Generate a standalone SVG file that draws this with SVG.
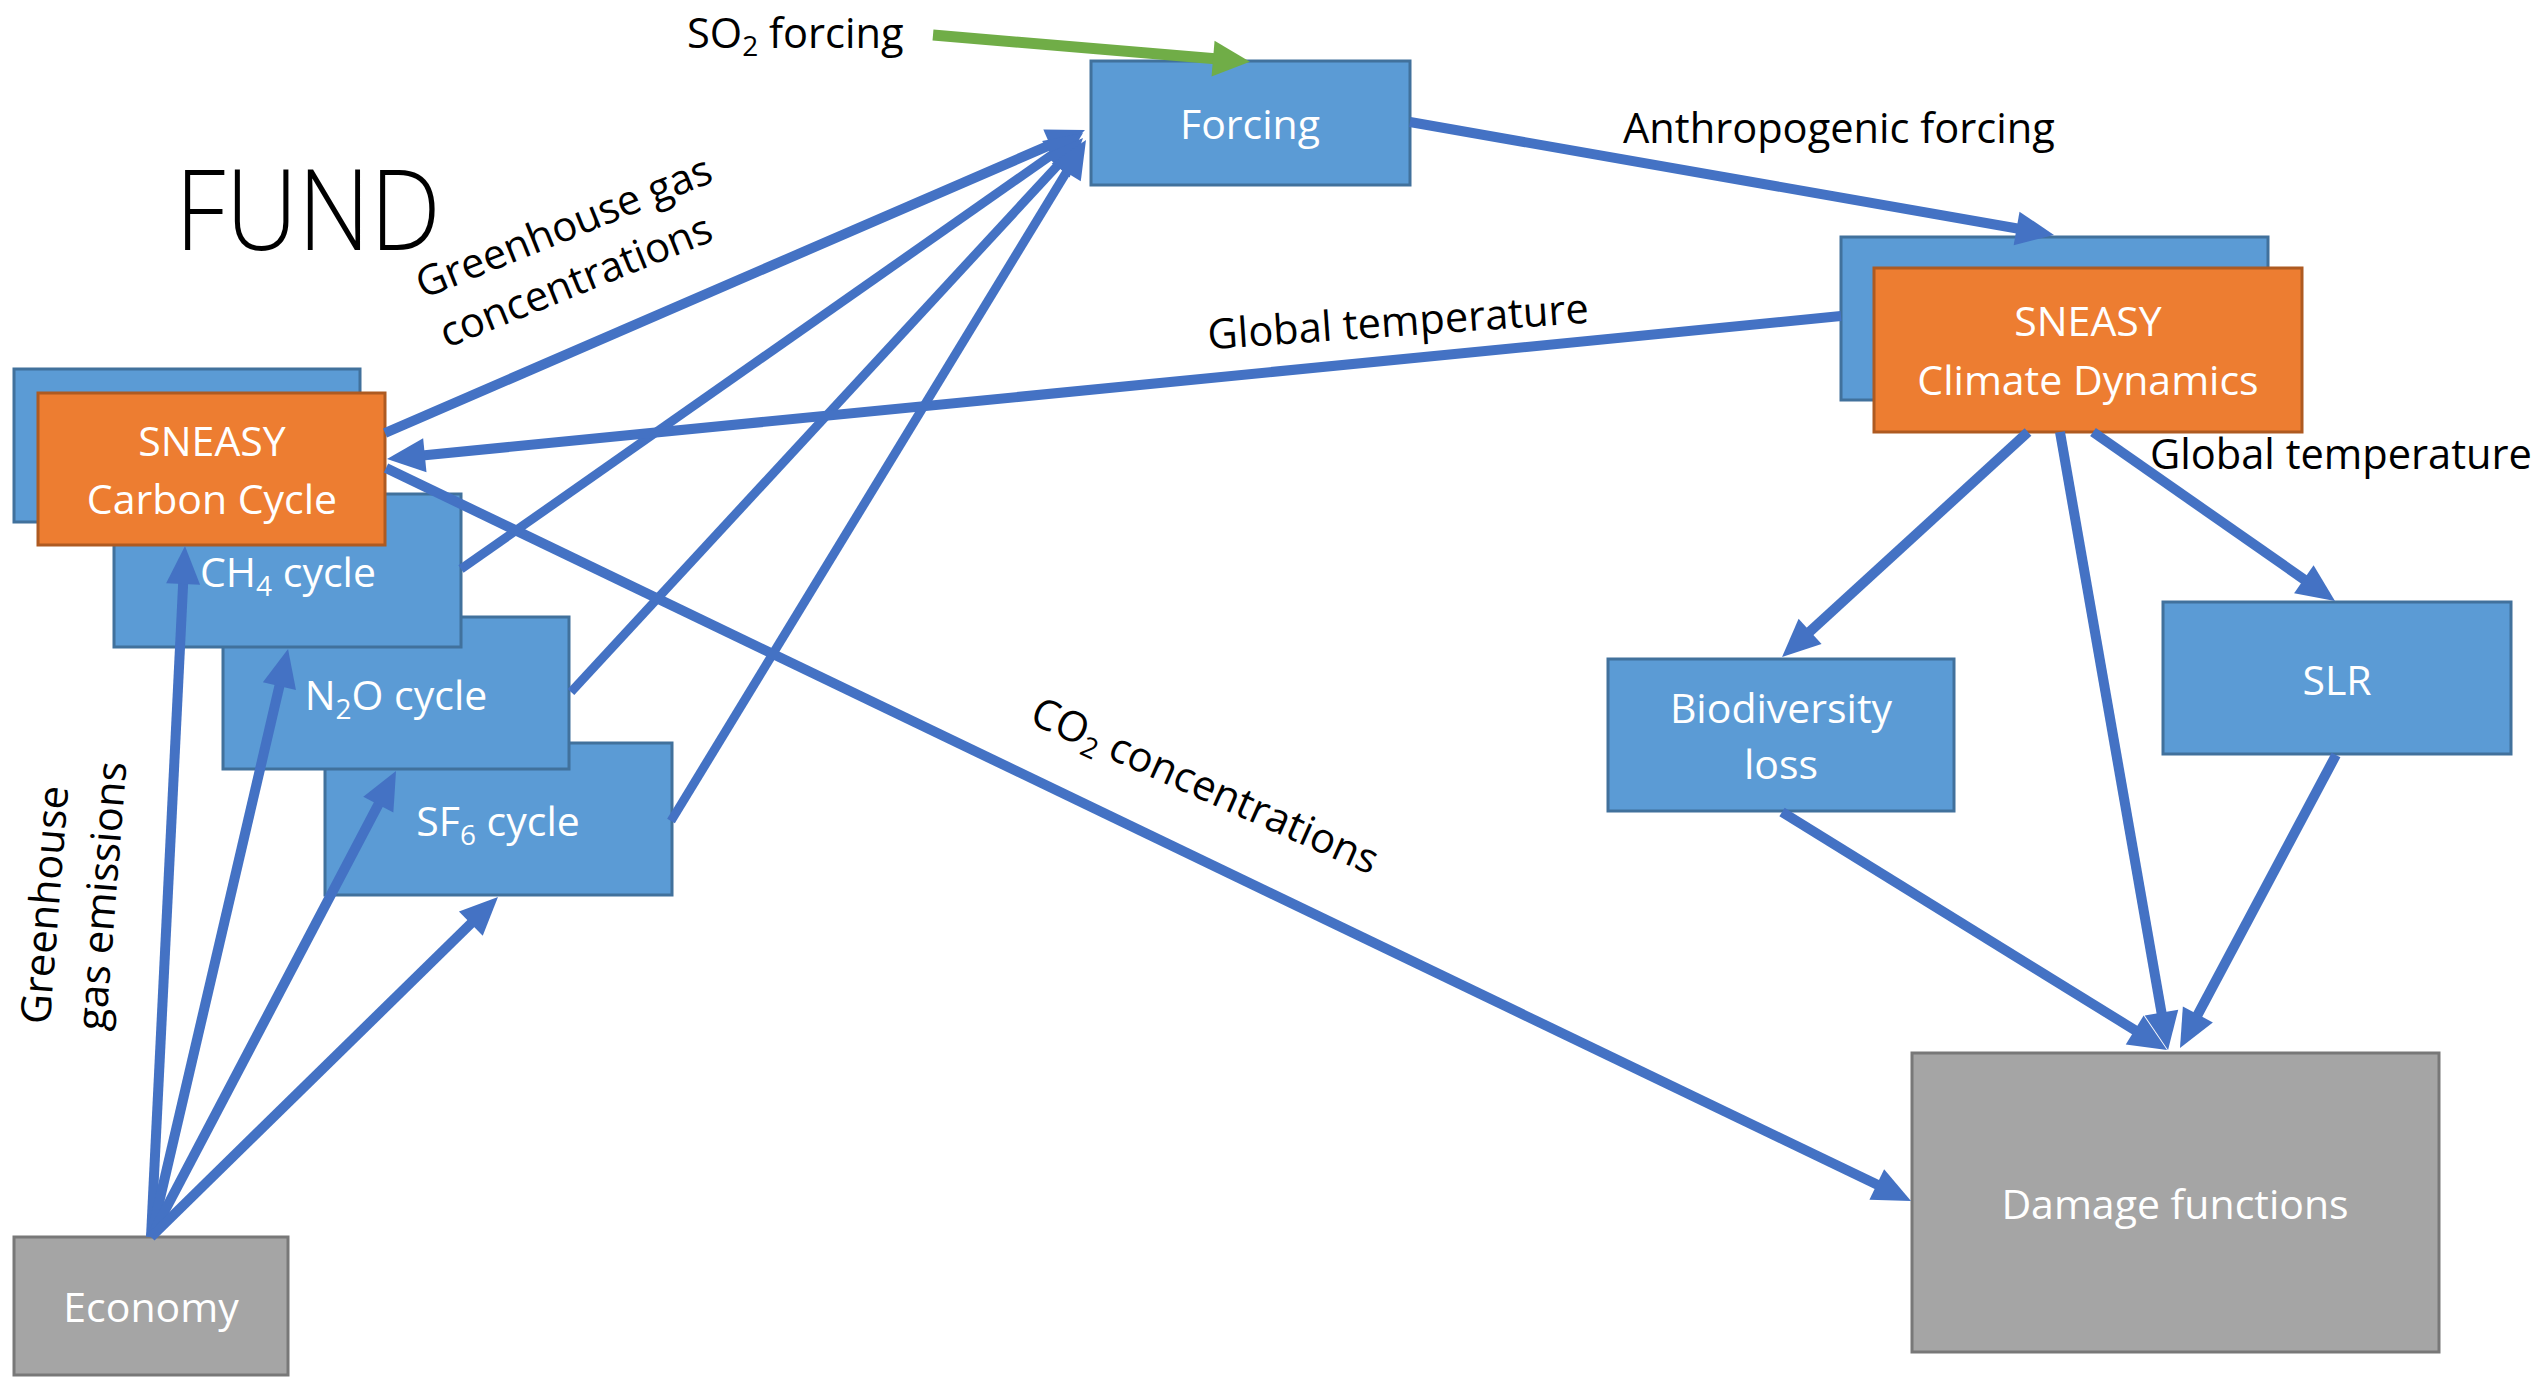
<svg xmlns="http://www.w3.org/2000/svg" width="2535" height="1377" viewBox="0 0 2535 1377">
<style>
.blue{fill:#5B9BD5;stroke:#41719C;stroke-width:3}
.orange{fill:#ED7D31;stroke:#AE5A21;stroke-width:3}
.gray{fill:#A5A5A5;stroke:#787878;stroke-width:3}
.nt{font-family:"Open Sans","Liberation Sans",sans-serif;font-size:41px;fill:#FFFFFF;text-anchor:middle}
.lb{font-family:"Open Sans","Liberation Sans",sans-serif;font-size:41.6px;fill:#000000}
.c{fill:none;stroke:#4472C4;stroke-width:10;marker-end:url(#ah)}
.ct{fill:none;stroke:#4472C4;stroke-width:9;marker-end:url(#ah)}
.cn{fill:none;stroke:#4472C4;stroke-width:10}
</style>
<defs>
<marker id="ah" markerUnits="userSpaceOnUse" markerWidth="40" markerHeight="36" refX="18" refY="17" orient="auto" overflow="visible"><path d="M0,0 L38,17 L0,34 z" fill="#4472C4"/></marker>
<marker id="ahg" markerUnits="userSpaceOnUse" markerWidth="40" markerHeight="38" refX="17" refY="18" orient="auto" overflow="visible"><path d="M0,0 L37,18 L0,36 z" fill="#70AD47"/></marker>
</defs>
<rect width="2535" height="1377" fill="#FFFFFF"/>

<text x="175" y="250" font-family="'Open Sans','Liberation Sans',sans-serif" font-weight="300" font-size="113" textLength="266" lengthAdjust="spacingAndGlyphs" fill="#000">FUND</text>

<g id="sf6">
<rect class="blue" x="325" y="743" width="347" height="152"/>
<text class="nt" x="498" y="836">SF<tspan font-size="28" dy="9">6</tspan><tspan dy="-9"> cycle</tspan></text>
</g>
<g id="n2o">
<rect class="blue" x="223" y="617" width="346" height="152"/>
<text class="nt" x="396" y="710">N<tspan font-size="28" dy="9">2</tspan><tspan dy="-9">O cycle</tspan></text>
</g>
<g id="ch4">
<rect class="blue" x="114" y="494" width="347" height="153"/>
<text class="nt" x="288" y="587">CH<tspan font-size="28" dy="9">4</tspan><tspan dy="-9"> cycle</tspan></text>
</g>
<g id="carbon-cycle">
<rect class="blue" x="14" y="369" width="346" height="153"/>
<rect class="orange" x="38" y="393" width="347" height="152"/>
<text class="nt" x="212" y="456">SNEASY</text>
<text class="nt" x="212" y="514">Carbon Cycle</text>
</g>
<g id="economy">
<rect class="gray" x="14" y="1237" width="274" height="138"/>
<text class="nt" x="151" y="1322">Economy</text>
</g>
<g id="forcing">
<rect class="blue" x="1091" y="61" width="319" height="124"/>
<text class="nt" x="1250" y="139">Forcing</text>
</g>
<g id="climate-dynamics">
<rect class="blue" x="1841" y="237" width="427" height="163"/>
<rect class="orange" x="1874" y="268" width="428" height="164"/>
<text class="nt" x="2088" y="336">SNEASY</text>
<text class="nt" x="2088" y="395">Climate Dynamics</text>
</g>
<g id="biodiversity">
<rect class="blue" x="1608" y="659" width="346" height="152"/>
<text class="nt" x="1781" y="723">Biodiversity</text>
<text class="nt" x="1781" y="779">loss</text>
</g>
<g id="slr">
<rect class="blue" x="2163" y="602" width="348" height="152"/>
<text class="nt" x="2337" y="695">SLR</text>
</g>
<g id="damage">
<rect class="gray" x="1912" y="1053" width="527" height="299"/>
<text class="nt" x="2175" y="1219">Damage functions</text>
</g>

<g id="connectors">
<line x1="933" y1="35" x2="1230" y2="60" stroke="#70AD47" stroke-width="11" marker-end="url(#ahg)"/>
<line class="c" x1="385" y1="433" x2="1066.6" y2="137.9"/>
<line class="ct" x1="461" y1="569" x2="1066.6" y2="144.5"/>
<line class="ct" x1="571" y1="692" x2="1069.4" y2="152.7"/>
<line class="ct" x1="671" y1="821" x2="1075.6" y2="157.1"/>
<line class="c" x1="1410" y1="122" x2="2034.3" y2="231.5"/>
<line class="c" x1="1841" y1="316" x2="406.9" y2="457"/>
<line class="c" x1="386" y1="468" x2="1893" y2="1192.3"/>
<line class="c" x1="151" y1="1237" x2="184" y2="566"/>
<line class="c" x1="151" y1="1237" x2="283.5" y2="668.5"/>
<line class="c" x1="151" y1="1237" x2="386.7" y2="788.7"/>
<line class="c" x1="151" y1="1237" x2="483.7" y2="911"/>
<line class="c" x1="2028" y1="432" x2="1796.8" y2="643.5"/>
<line class="c" x1="2060" y1="432" x2="2164.6" y2="1030.3"/>
<line class="c" x1="2093" y1="432" x2="2318.6" y2="589.6"/>
<line class="c" x1="1782" y1="812" x2="2150" y2="1039.5"/>
<line class="c" x1="2336" y1="755" x2="2189.4" y2="1030.3"/>
</g>

<g id="labels">
<text class="lb" x="687" y="48">SO<tspan font-size="28" dy="8">2</tspan><tspan dy="-8"> forcing</tspan></text>
<text class="lb" x="1623" y="143">Anthropogenic forcing</text>
<text class="lb" x="2150" y="469">Global temperature</text>
<g transform="translate(1398,322) rotate(-4)"><text class="lb" x="0" y="14" text-anchor="middle">Global temperature</text></g>
<g transform="translate(569,240) rotate(-22)"><text class="lb" x="0" y="0" text-anchor="middle" font-size="44">Greenhouse gas</text></g>
<g transform="translate(581,294) rotate(-22)"><text class="lb" x="0" y="0" text-anchor="middle" font-size="44">concentrations</text></g>
<g transform="translate(1205,786) rotate(24)"><text class="lb" x="0" y="14" text-anchor="middle">CO<tspan font-size="28" dy="8">2</tspan><tspan dy="-8"> concentrations</tspan></text></g>
<g transform="translate(59,906) rotate(-85.5)"><text class="lb" x="0" y="0" text-anchor="middle" font-size="44">Greenhouse</text></g>
<g transform="translate(116,897) rotate(-85.5)"><text class="lb" x="0" y="0" text-anchor="middle" font-size="44">gas emissions</text></g>
</g>
</svg>
